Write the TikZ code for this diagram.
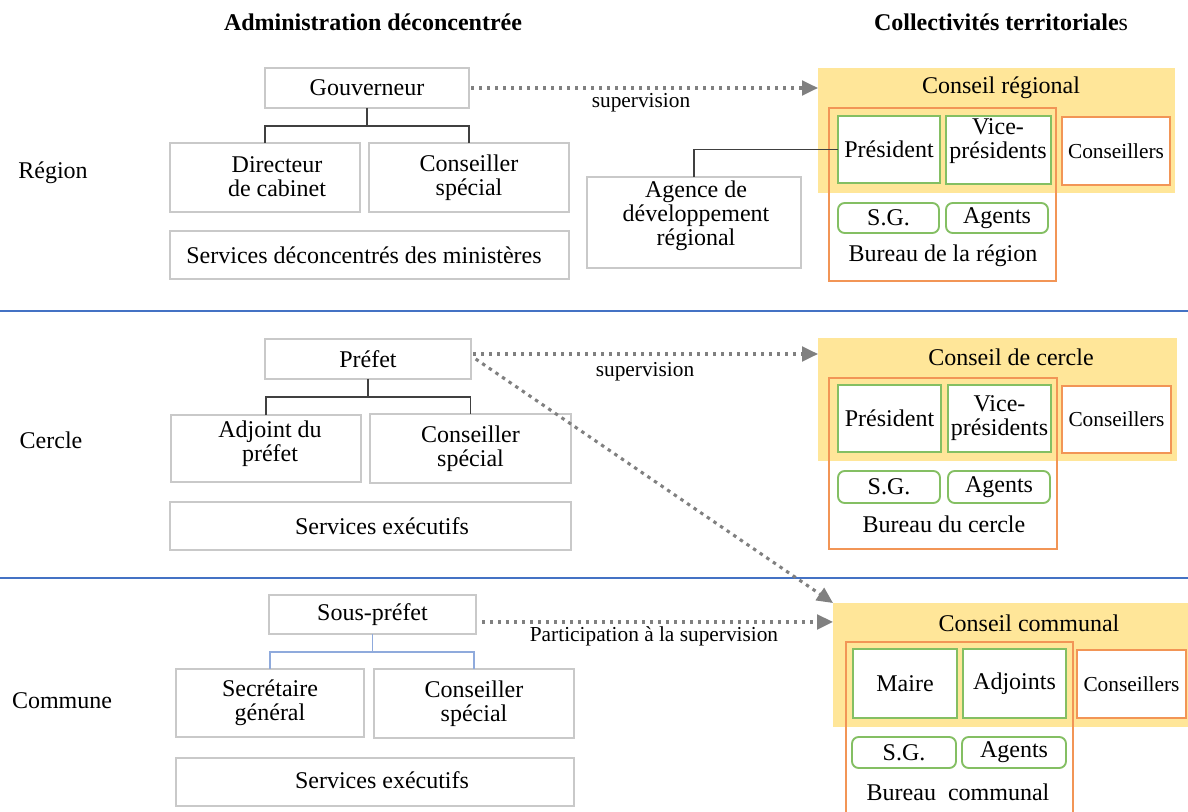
\documentclass[tikz,border=0pt]{standalone}
\usepackage{fontspec}
\setmainfont{Liberation Serif}
\usetikzlibrary{arrows.meta}

\definecolor{boxgray}{HTML}{C9C9C9}
\definecolor{yellowc}{HTML}{FFE699}
\definecolor{orangec}{HTML}{F29556}
\definecolor{greenc}{HTML}{84BF63}
\definecolor{sepblue}{HTML}{4472C4}
\definecolor{linkc}{HTML}{404040}
\definecolor{lightlink}{HTML}{8FAADC}
\definecolor{arrowc}{HTML}{808080}

% box from corner (x1,y1) to corner (x2,y2), in pixel-like units
\newcommand\mkbox[7][]{%
  \pgfmathsetlengthmacro\mkboxw{(#5-#3)*0.75pt}%
  \pgfmathsetlengthmacro\mkboxh{(#6-#4)*0.75pt}%
  \node[#1, minimum width=\mkboxw, minimum height=\mkboxh, inner sep=0pt, outer sep=0pt]
    (#2) at ({(#3+#5)/2},{(#4+#6)/2}) {#7};}

\tikzset{
  txt/.style={font=\fontsize{18}{18}\selectfont, align=center, inner sep=0pt},
  smalltxt/.style={font=\fontsize{16}{16}\selectfont, align=center, inner sep=0pt},
  hdr/.style={font=\fontsize{18}{18}\selectfont\bfseries, inner sep=0pt},
  gbox/.style={draw=boxgray, line width=1.3pt, fill=white, txt},
  gcell/.style={draw=greenc, line width=1.4pt, fill=white, txt},
  gpill/.style={gcell, rounded corners=5pt},
  bureau/.style={draw=orangec, line width=1.4pt},
  ocell/.style={draw=orangec, line width=1.4pt, fill=white, smalltxt},
  council/.style={fill=yellowc},
  link/.style={draw=linkc, line width=1.3pt},
  thinlink/.style={draw=lightlink, line width=0.9pt},
  sep/.style={draw=sepblue, line width=1.6pt},
  sup/.style={draw=arrowc, line width=2.3pt, dash pattern=on 2.6pt off 3.4pt,
    -{Triangle[length=12pt,width=11pt]}},
}

\begin{document}
\begin{tikzpicture}[x=0.75pt,y=-0.75pt]
\clip (0,0) rectangle (1188,812);
\fill[white] (0,0) rectangle (1188,812);

% column headers
\node[hdr] (hadm) at (373,22) {Administration déconcentrée};
\node[hdr] (hcol) at (1001,22) {Collectivités territoriale\mdseries s};

% level separators
\draw[sep] (0,311) -- (1188,311);
\draw[sep] (0,578) -- (1188,578);

% level names
\node[txt] (lreg) at (53,173) {Région};
\node[txt] (lcer) at (51,440) {Cercle};
\node[txt] (lcom) at (62,701) {Commune};

%% ---------------- Région ----------------
\mkbox[gbox]{gouv}{265}{68}{469}{108}{Gouverneur}
\mkbox[gbox]{dir}{170}{143}{360}{212}{}
\node[txt] (dirt) at (277,177) {Directeur\\de cabinet};
\mkbox[gbox]{cs1}{369}{143}{569}{212}{Conseiller\\spécial}
\mkbox[gbox]{svc1}{170}{231}{569}{279}{}
\node[txt] (svc1t) at (364,255) {Services déconcentrés des ministères};
\coordinate (j1) at (367,126);
\draw[link] (gouv.south) -- (j1);
\draw[link] (dir.north) |- (j1) -| (cs1.north);

\mkbox[gbox]{adr}{587}{177}{801}{268}{}
\node[txt] (adrt) at (696,216) {Agence de\\développement\\régional};

\mkbox[council]{cr}{818}{68}{1175}{193}{}
\node[txt] (crt) at (1001,88) {Conseil régional};
\mkbox[bureau]{bur1}{829}{108}{1056}{281}{}
\node[txt] (bur1t) at (943,256) {Bureau de la région};
\mkbox[gcell]{pres1}{838}{116}{940}{183}{Président}
\mkbox[gcell]{vp1}{946}{116}{1051}{184}{}
\node[txt] (vp1t) at (998,141) {Vice-\\présidents};
\mkbox[ocell]{con1}{1062}{117}{1170}{185}{Conseillers}
\mkbox[gpill]{sg1}{838}{203}{939}{233}{S.G.}
\mkbox[gpill]{ag1}{946}{203}{1048}{233}{Agents}

\draw[link] (adr.north) |- (pres1.west);

\draw[sup] ([xshift=1.5pt]gouv.east) -- (gouv.east -| cr.west);
\node[smalltxt] (sup1) at (641,103) {supervision};

%% ---------------- Cercle ----------------
\mkbox[gbox]{pref}{265}{339}{471}{379}{Préfet}
\mkbox[gbox]{adj}{171}{415}{361}{482}{}
\node[txt] (adjt) at (270,444) {Adjoint du\\préfet};
\mkbox[gbox]{cs2}{370}{414}{571}{483}{Conseiller\\spécial}
\mkbox[gbox]{svc2}{170}{502}{571}{550}{}
\node[txt] (svc2t) at (382,526) {Services exécutifs};
\coordinate (j2) at (368,397);
\draw[link] (pref.south) -- (j2);
\draw[link] (adj.north) |- (j2) -| (cs2.north);

\mkbox[council]{ccl}{818}{338}{1177}{461}{}
\node[txt] (cclt) at (1011,357) {Conseil de cercle};
\mkbox[bureau]{bur2}{829}{378}{1057}{549}{}
\node[txt] (bur2t) at (944,524) {Bureau du cercle};
\mkbox[gcell]{pres2}{838}{385}{941}{452}{Président}
\mkbox[gcell]{vp2}{948}{385}{1051}{452}{Vice-\\présidents}
\mkbox[ocell]{con2}{1062}{386}{1171}{453}{Conseillers}
\mkbox[gpill]{sg2}{838}{471}{940}{503}{S.G.}
\mkbox[gpill]{ag2}{948}{471}{1050}{503}{Agents}

\coordinate (s2) at ([xshift=1.5pt,yshift=3.75pt]pref.east);
\draw[sup] (s2) -- (s2 -| ccl.west);
\node[smalltxt] (sup2) at (645,372) {supervision};

%% ---------------- Commune ----------------
\mkbox[gbox]{spref}{269}{595}{476}{634}{Sous-préfet}
\mkbox[gbox]{sgen}{176}{669}{364}{737}{Secrétaire\\général}
\mkbox[gbox]{cs3}{374}{669}{574}{738}{Conseiller\\spécial}
\mkbox[gbox]{svc3}{176}{758}{574}{806}{}
\node[txt] (svc3t) at (382,780) {Services exécutifs};
\coordinate (j3) at (372.5,652);
\draw[thinlink] (spref.south) -- (j3);
\draw[thinlink] (sgen.north) |- (j3) -| (cs3.north);

\mkbox[council]{ccom}{833}{603}{1190}{727}{}
\node[txt] (ccomt) at (1029,623) {Conseil communal};
\mkbox[bureau]{bur3}{846}{642}{1073}{820}{}
\node[txt] (bur3t) at (958,792) {Bureau\ \ communal};
\mkbox[gcell]{maire}{853}{649}{957}{718}{Maire}
\mkbox[gcell]{adj3}{963}{649}{1066}{718}{Adjoints}
\mkbox[ocell]{con3}{1077}{650}{1186}{718}{Conseillers}
\mkbox[gpill]{sg3}{852}{737}{956}{768}{S.G.}
\mkbox[gpill]{ag3}{962}{737}{1066}{768}{Agents}

\coordinate (s3) at ([xshift=4.5pt,yshift=-5.6pt]spref.east);
\draw[sup] (s3) -- (s3 -| ccom.west);
\node[smalltxt] (sup3) at (654,636) {Participation à la supervision};

% prefect to communal council
\draw[sup] ([xshift=3.5pt]pref.east) -- (ccom.north west);
\end{tikzpicture}
\end{document}
